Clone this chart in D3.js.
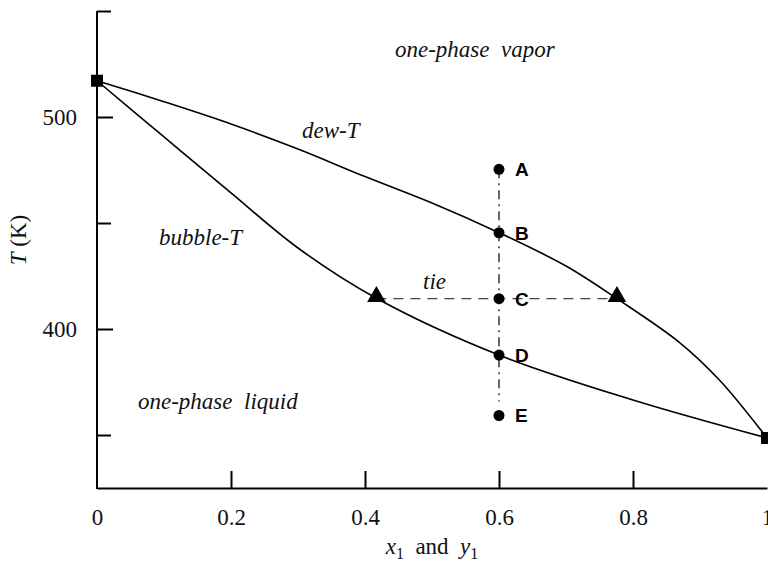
<!DOCTYPE html>
<html><head><meta charset="utf-8">
<script src="https://cdn.jsdelivr.net/npm/d3@7"></script>
<style>body{margin:0;background:#fff}svg{display:block}</style>
</head><body>
<svg id="c" width="768" height="562"></svg>
<script>
// ---- data ----
const dewX = [0, 0.1, 0.2, 0.3, 0.4, 0.5, 0.6, 0.7, 0.776, 0.87, 0.93, 1];
const dewT = [517.1, 507.2, 496.7, 484.9, 471.9, 459.4, 445.4, 429.7, 414.3, 393.5, 375.6, 348.6];
const bubX = [0, 0.1, 0.2, 0.3, 0.417, 0.6, 0.8, 1];
const bubT = [517.1, 490.6, 464.2, 438.2, 414.5, 387.7, 366.5, 348.6];
const pointLabels = ["A", "B", "C", "D", "E"];
const pointX = [0.6, 0.6, 0.6, 0.6, 0.6];
const pointT = [475.3, 445.4, 414.3, 387.7, 359.2];
const tieX = [0.417, 0.776];
const tieT = [414.3, 414.3];
const pureX = [0, 1];
const pureT = [517.1, 348.6];
const xTicks = [0, 0.2, 0.4, 0.6, 0.8, 1];
const xTickLabels = ["0", "0.2", "0.4", "0.6", "0.8", "1"];
const yMajor = [400, 500];
const yMinor = [350, 450, 550];

const svg = d3.select("#c");
const x = d3.scaleLinear().domain([0, 1]).range([97, 767]);
const y = d3.scaleLinear().domain([325, 550]).range([488, 11]);
const serif = "'Liberation Serif', 'DejaVu Serif', serif";
const FS = 23;

// axes
const gx = svg.append("g").attr("transform", `translate(0,${y(325)})`)
  .call(d3.axisBottom(x).tickValues(xTicks).tickFormat((d,i)=>xTickLabels[i]).tickSizeInner(-17).tickSizeOuter(0).tickPadding(21));
gx.selectAll(".tick").filter(d => d === 0 || d === 1).select("line").remove();
const gy = svg.append("g").attr("transform", `translate(${x(0)},0)`)
  .call(d3.axisLeft(y).tickValues(yMajor).tickFormat(d3.format("d")).tickSizeInner(-16).tickSizeOuter(0).tickPadding(20));
const gy2 = svg.append("g").attr("transform", `translate(${x(0)},0)`)
  .call(d3.axisLeft(y).tickValues(yMinor).tickFormat("").tickSizeInner(-14).tickSizeOuter(0));
gy2.select(".domain").remove();
gy.select(".domain").attr("d", `M0,${y(325)+1}V${y(550)}`);
[gx, gy, gy2].forEach(g => {
  g.selectAll("path,line").attr("stroke", "#000").attr("stroke-width", 2);
  g.selectAll("text").attr("font-family", serif).attr("font-size", FS).attr("fill", "#111");
});

// curves
const line = d3.line().x(d => x(d[0])).y(d => y(d[1])).curve(d3.curveCatmullRom.alpha(0.5));
svg.append("path").datum(dewX.map((v,i)=>[v, dewT[i]])).attr("d", line)
  .attr("fill", "none").attr("stroke", "#000").attr("stroke-width", 1.6);
svg.append("path").datum(bubX.map((v,i)=>[v, bubT[i]])).attr("d", line)
  .attr("fill", "none").attr("stroke", "#000").attr("stroke-width", 1.6);

// tie line
svg.append("line").attr("x1", x(tieX[0])).attr("x2", x(tieX[1])).attr("y1", y(tieT[0])).attr("y2", y(tieT[1]))
  .attr("stroke", "#444").attr("stroke-width", 1.2).attr("stroke-dasharray", "10,7");
// vertical dash-dot line
svg.append("line").attr("x1", x(pointX[0])).attr("x2", x(pointX[4])).attr("y1", y(pointT[0])).attr("y2", y(pointT[4]) - 14)
  .attr("stroke", "#000").attr("stroke-width", 1.2).attr("stroke-dasharray", "9,5,2,5");

// points
svg.selectAll("circle.pt").data(pointLabels).join("circle").attr("class", "pt")
  .attr("cx", (d,i)=>x(pointX[i])).attr("cy", (d,i)=>y(pointT[i])).attr("r", 5.5).attr("fill", "#000");
svg.selectAll("text.pl").data(pointLabels).join("text").attr("class", "pl")
  .attr("x", (d,i)=>x(pointX[i]) + 16).attr("y", (d,i)=>y(pointT[i]) + 7)
  .attr("font-family", "'Liberation Sans', Arial, sans-serif").attr("font-weight", "bold").attr("font-size", 19)
  .text(d => d);

// triangles
const tri = d3.symbol().type(d3.symbolTriangle).size(150);
svg.selectAll("path.tri").data(tieX).join("path").attr("class", "tri")
  .attr("transform", (d,i)=>`translate(${x(d)},${y(tieT[i]) - 2})`).attr("d", tri).attr("fill", "#000");
// squares
svg.selectAll("rect.sq").data(pureX).join("rect").attr("class", "sq")
  .attr("x", d => x(d) - 6).attr("y", (d,i)=>y(pureT[i]) - 6).attr("width", 12).attr("height", 12).attr("fill", "#000");

// region labels
const labels = [
  {t: "one-phase  vapor", x: 395, y: 57},
  {t: "dew-T", x: 302, y: 138},
  {t: "bubble-T", x: 159, y: 245},
  {t: "tie", x: 423, y: 289},
  {t: "one-phase  liquid", x: 138, y: 409}
];
svg.selectAll("text.rl").data(labels).join("text").attr("class", "rl")
  .attr("x", d => d.x).attr("y", d => d.y).attr("font-family", serif).attr("font-style", "italic")
  .attr("font-size", FS).attr("fill", "#111").style("white-space", "pre").text(d => d.t);

// axis titles
const xt = svg.append("text").attr("x", 432).attr("y", 554).attr("text-anchor", "middle")
  .attr("font-family", serif).attr("font-size", FS).attr("fill", "#111").style("white-space", "pre");
xt.append("tspan").attr("font-style", "italic").text("x");
xt.append("tspan").attr("font-size", 16).attr("dy", 5).text("1");
xt.append("tspan").attr("dy", -5).text("  and  ");
xt.append("tspan").attr("font-style", "italic").text("y");
xt.append("tspan").attr("font-size", 16).attr("dy", 5).text("1");

const yt = svg.append("text").attr("transform", "translate(26,240) rotate(-90)").attr("text-anchor", "middle")
  .attr("font-family", serif).attr("font-size", FS).attr("fill", "#111");
yt.append("tspan").attr("font-style", "italic").text("T");
yt.append("tspan").text(" (K)");
</script>
</body></html>
